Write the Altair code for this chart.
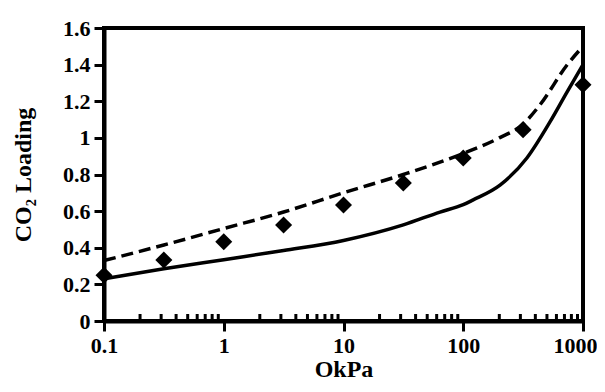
import altair as alt
import pandas as pd

# Model curve (solid)
SOLID_P = [0.1, 0.316, 1, 3.16, 10, 31.6, 64, 100, 120, 204, 340, 530, 735, 1000]
SOLID_V = [0.23, 0.285, 0.335, 0.385, 0.44, 0.525, 0.595, 0.635, 0.66, 0.743, 0.89, 1.087, 1.25, 1.40]
# Model curve (dashed)
DASH_P = [0.1, 0.316, 1, 3.16, 10, 31.6, 100, 200, 316, 437, 740, 1000]
DASH_V = [0.33, 0.415, 0.505, 0.595, 0.70, 0.80, 0.915, 1.0, 1.075, 1.18, 1.40, 1.50]
# Experimental points (diamonds)
PTS_P = [0.1, 0.316, 1, 3.16, 10, 31.6, 100, 316, 1000]
PTS_V = [0.25, 0.333, 0.433, 0.524, 0.634, 0.754, 0.89, 1.045, 1.29]

X_TICKS = [0.1, 1, 10, 100, 1000]
X_MINOR = [0.2, 0.3, 0.4, 0.5, 0.6, 0.7, 0.8, 0.9,
           2, 3, 4, 5, 6, 7, 8, 9,
           20, 30, 40, 50, 60, 70, 80, 90,
           200, 300, 400, 500, 600, 700, 800, 900]
Y_TICKS = [0, 0.2, 0.4, 0.6, 0.8, 1, 1.2, 1.4, 1.6]

W, H = 479, 293
FONT = "Liberation Serif, Times New Roman, Times, serif"

solid = pd.DataFrame({"p": SOLID_P, "v": SOLID_V})
dash = pd.DataFrame({"p": DASH_P, "v": DASH_V})
pts = pd.DataFrame({"p": PTS_P, "v": PTS_V})
minor = pd.DataFrame({"p": X_MINOR})

xscale = alt.Scale(type="log", domain=[0.1, 1000])
yscale = alt.Scale(domain=[0, 1.6])

xaxis = alt.Axis(values=X_TICKS, format="~g", title="OkPa", grid=False,
                 tickSize=10, tickWidth=3, labelPadding=4, labelFlush=False,
                 labelOffset={"condition": {"test": "datum.value >= 1000", "value": -8},
                              "value": 0},
                 titleY=55, titleBaseline="alphabetic")
yaxis = alt.Axis(values=Y_TICKS, format="~g", title="CO₂ Loading", grid=False,
                 tickSize=10, tickWidth=3, labelPadding=4, labelFlush=False,
                 titleX=-74, titleY=H / 2, titleAngle=-90,
                 titleAlign="center", titleBaseline="alphabetic")

X = alt.X("p:Q", scale=xscale, axis=xaxis)
Y = alt.Y("v:Q", scale=yscale, axis=yaxis)

points = alt.Chart(pts).mark_point(shape="diamond", filled=True, size=290,
                                   color="black", opacity=1).encode(x=X, y=Y)

solid_line = alt.Chart(solid).mark_line(color="black", strokeWidth=3.5,
                                        interpolate="monotone").encode(x=X, y=Y)

dash_line = alt.Chart(dash).mark_line(color="black", strokeWidth=3.5,
                                      strokeDash=[12, 6],
                                      interpolate="monotone").encode(x=X, y=Y)

minor_ticks = alt.Chart(minor).mark_rule(color="black", strokeWidth=3).encode(
    x=X,
    y=alt.value(H - 7),
    y2=alt.value(H),
)

chart = alt.layer(points, solid_line, dash_line, minor_ticks).properties(
    width=W, height=H,
    autosize=alt.AutoSizeParams(type="none"),
    padding={"left": 96, "top": 20, "right": 14, "bottom": 63},
).configure_view(
    stroke="black", strokeWidth=4,
).configure_axis(
    domainColor="black", domainWidth=4, tickColor="black",
    labelFont=FONT, labelFontSize=22, labelFontWeight="bold", labelColor="black",
    titleFont=FONT, titleFontSize=24, titleFontWeight="bold", titleColor="black",
)

chart.save("out.html", embed_options={"renderer": "svg", "actions": False})
